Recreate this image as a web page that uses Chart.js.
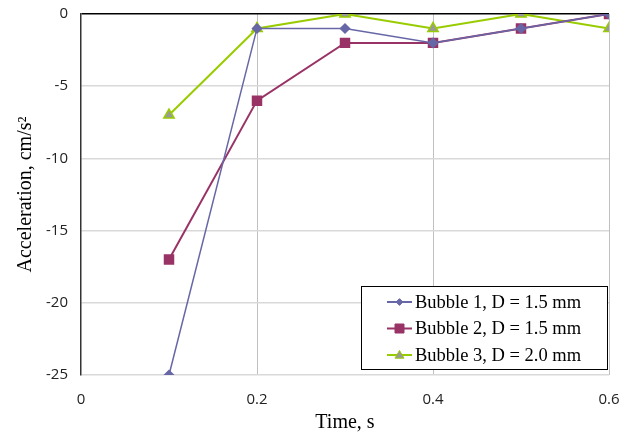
<!DOCTYPE html>
<html><head><meta charset="utf-8">
<script src="https://cdn.jsdelivr.net/npm/chart.js@4/dist/chart.umd.min.js"></script>
<style>html,body{margin:0;padding:0;background:#fff}#wrap{width:623px;height:440px;position:relative}</style>
</head><body><div id="wrap"><canvas id="c" width="623" height="440"></canvas></div>
<script>
const times = [0.1, 0.2, 0.3, 0.4, 0.5, 0.6];
const bubble1 = [-25, -1, -1, -2, -1, 0];
const bubble2 = [-17, -6, -2, -2, -1, 0];
const bubble3 = [-7, -1, 0, -1, 0, -1];
const seriesNames = ['Bubble 1, D = 1.5 mm', 'Bubble 2, D = 1.5 mm', 'Bubble 3, D = 2.0 mm'];
const xTicks = [0, 0.2, 0.4, 0.6];
const yTicks = [0, -5, -10, -15, -20, -25];

const pts = arr => arr.map((v, i) => ({x: times[i], y: v}));

const legendPlugin = {
  id: 'boxLegend',
  afterDraw(chart) {
    const ctx = chart.ctx;
    const bx = 361, by = 286, bw = 246, bh = 83;
    ctx.save();
    ctx.fillStyle = '#fff';
    ctx.fillRect(bx, by, bw, bh);
    ctx.strokeStyle = '#000';
    ctx.lineWidth = 1;
    ctx.strokeRect(bx + 0.5, by + 0.5, bw, bh);
    chart.data.datasets.forEach((ds, i) => {
      const cy = 302 + i * 26.5;
      const cx = 399.5;
      ctx.strokeStyle = ds.borderColor;
      ctx.lineWidth = 2;
      ctx.beginPath(); ctx.moveTo(387, cy); ctx.lineTo(412, cy); ctx.stroke();
      ctx.fillStyle = ds.pointBackgroundColor;
      ctx.strokeStyle = ds.pointBorderColor;
      ctx.lineWidth = 1;
      ctx.beginPath();
      const r = ds.pointRadius * 0.75;
      if (ds.pointStyle === 'rectRot') { ctx.moveTo(cx, cy - r); ctx.lineTo(cx + r, cy); ctx.lineTo(cx, cy + r); ctx.lineTo(cx - r, cy); ctx.closePath(); }
      else if (ds.pointStyle === 'rect') { ctx.rect(cx - r, cy - r, 2 * r, 2 * r); }
      else { ctx.moveTo(cx, cy - r); ctx.lineTo(cx + r, cy + r * 0.7); ctx.lineTo(cx - r, cy + r * 0.7); ctx.closePath(); }
      ctx.fill(); ctx.stroke();
      ctx.fillStyle = '#000';
      ctx.font = '18.5px "Liberation Serif", "Times New Roman", serif';
      ctx.textBaseline = 'middle';
      ctx.fillText(ds.label, 415, cy + 1);
    });
    ctx.restore();
  }
};

const tickFont = {family: '"Open Sans", "Liberation Sans", sans-serif', size: 15};

new Chart(document.getElementById('c'), {
  type: 'line',
  data: {
    datasets: [
      {label: seriesNames[0], data: pts(bubble1), borderColor: '#6767A7', backgroundColor: '#6767A7',
       pointStyle: 'rectRot', pointRadius: 4.5, pointBackgroundColor: '#6767A7', pointBorderColor: '#6767A7', borderWidth: 1.5},
      {label: seriesNames[1], data: pts(bubble2), borderColor: '#993366', backgroundColor: '#993366',
       pointStyle: 'rect', pointRadius: 6, pointBackgroundColor: '#993366', pointBorderColor: '#993366', borderWidth: 2},
      {label: seriesNames[2], data: pts(bubble3), borderColor: '#99CC00', backgroundColor: '#999999',
       pointStyle: 'triangle', pointRadius: 6, pointBackgroundColor: '#999999', pointBorderColor: '#99CC00', pointBorderWidth: 1.5, borderWidth: 2}
    ]
  },
  options: {
    responsive: false,
    animation: false,
    layout: {padding: {left: 0, right: 14, top: 14, bottom: 5}},
    plugins: {legend: {display: false}, tooltip: {enabled: false}},
    scales: {
      x: {
        type: 'linear', min: 0, max: 0.6,
        afterBuildTicks: s => { s.ticks = xTicks.map(v => ({value: v})); },
        afterFit: s => { s.height = 60; s.paddingLeft = 0; s.paddingRight = 0; },
        grid: {color: ctx => (ctx.tick && ctx.tick.value === 0) ? 'rgba(0,0,0,0)' : '#c0c0c0', lineWidth: 1, drawTicks: false},
        border: {display: false},
        ticks: {padding: 16, color: '#222', font: tickFont, callback: v => String(v)},
        title: {display: true, text: 'Time, s', color: '#000', font: {family: '"Liberation Serif", "Times New Roman", serif', size: 20}, padding: {top: 0, bottom: 0}}
      },
      y: {
        type: 'linear', min: -25, max: 0,
        afterBuildTicks: s => { s.ticks = yTicks.map(v => ({value: v})); },
        afterFit: s => { s.width = 81; s.paddingTop = 0; s.paddingBottom = 0; },
        grid: {color: ctx => (ctx.tick && ctx.tick.value === 0) ? '#000' : '#d9d9d9', lineWidth: 1.5, drawTicks: false},
        border: {display: true, color: '#333', width: 1.5},
        ticks: {padding: 13, color: '#222', font: tickFont},
        title: {display: true, text: 'Acceleration, cm/s\u00B2', color: '#000', font: {family: '"Liberation Serif", "Times New Roman", serif', size: 20}, padding: {top: 14, bottom: 0}}
      }
    }
  },
  plugins: [legendPlugin]
});
</script>
</body></html>
